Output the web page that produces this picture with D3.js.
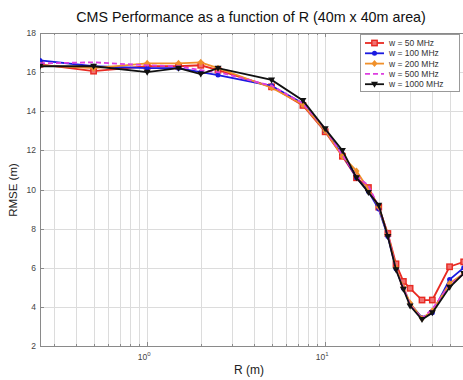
<!DOCTYPE html>
<html>
<head>
<meta charset="utf-8">
<script src="https://cdn.jsdelivr.net/npm/d3@7"></script>
<style>
  body { margin: 0; background: #fff; }
  svg { font-family: "Liberation Sans", Arial, sans-serif; }
</style>
</head>
<body>
<svg width="463" height="380"></svg>
<script>
// R values (m) where RMSE was sampled
const radius = [0.25, 0.5, 1, 1.5, 2, 2.5, 5, 7.5, 10, 12.5, 15, 17.5, 20, 22.5, 25, 27.5, 30, 35, 40, 50, 60];

const rmse50   = [16.4, 16.05, 16.3, 16.3, 16.35, 16.1, 15.25, 14.3, 12.95, 11.7, 10.6, 10.1, 9.1, 7.75, 6.2, 5.3, 4.95, 4.35, 4.35, 6.05, 6.3];
const rmse100  = [16.6, 16.3, 16.2, 16.2, 16.0, 15.85, 15.3, 14.4, 13.0, 11.8, 10.6, 9.9, 9.0, 7.6, 5.95, 4.95, 4.15, 3.45, 3.7, 5.4, 6.0];
const rmse200  = [16.35, 16.2, 16.45, 16.45, 16.5, 16.2, 15.2, 14.35, 13.0, 11.7, 10.95, 10.0, 9.1, 7.7, 6.0, 5.0, 4.2, 3.4, 3.8, 5.2, 5.7];
const rmse500  = [16.45, 16.5, 16.35, 16.3, 16.1, 16.0, 15.3, 14.4, 13.1, 11.75, 10.7, 10.2, 9.1, 7.7, 5.9, 5.0, 4.1, 3.4, 3.9, 5.1, 5.7];
const rmse1000 = [16.3, 16.3, 16.0, 16.2, 15.9, 16.2, 15.6, 14.55, 13.1, 12.0, 10.6, 9.85, 9.2, 7.6, 5.9, 4.9, 4.05, 3.35, 3.7, 5.0, 5.7];

const seriesNames = ['w = 50 MHz', 'w = 100 MHz', 'w = 200 MHz', 'w = 500 MHz', 'w = 1000 MHz'];
const yTicks = [2, 4, 6, 8, 10, 12, 14, 16, 18];
const xMajor = [1, 10];

const series = [
  {name: seriesNames[0], values: rmse50,   color: '#e82a22', marker: 'square'},
  {name: seriesNames[1], values: rmse100,  color: '#1a1ae0', marker: 'circle'},
  {name: seriesNames[2], values: rmse200,  color: '#f0902a', marker: 'diamond'},
  {name: seriesNames[3], values: rmse500,  color: '#dd3ee0', marker: 'none', dash: '5,3'},
  {name: seriesNames[4], values: rmse1000, color: '#111111', marker: 'triangle'}
];

const svg = d3.select('svg');
const margin = {left: 40, top: 33, bottom: 346, right: 463};

const x = d3.scaleLog()
  .domain([0.25, 100])
  .range([margin.left, margin.left + 178 * Math.log10(400)]);
const y = d3.scaleLinear()
  .domain([2, 18])
  .range([margin.bottom, margin.top]);

svg.append('defs').append('clipPath').attr('id', 'plot')
  .append('rect')
    .attr('x', margin.left).attr('y', margin.top - 6)
    .attr('width', margin.right - margin.left).attr('height', margin.bottom - margin.top + 12);

// grid
const minor = [];
[0.1, 1, 10].forEach(d => d3.range(1, 10).forEach(k => { const v = d * k; if (v >= 0.25) minor.push(v); }));
minor.push(100);

const grid = svg.append('g').attr('stroke', '#dcdcdc').attr('stroke-width', 1);
grid.selectAll('.vg').data(minor).enter().append('line')
  .attr('x1', d => Math.round(x(d)) + 0.5).attr('x2', d => Math.round(x(d)) + 0.5)
  .attr('y1', margin.top).attr('y2', margin.bottom);
grid.selectAll('.hg').data(yTicks).enter().append('line')
  .attr('x1', margin.left).attr('x2', margin.right)
  .attr('y1', d => Math.round(y(d)) + 0.5).attr('y2', d => Math.round(y(d)) + 0.5);

// axes frame
const axisColor = '#8a8a8a';
svg.append('line').attr('x1', margin.left + 0.5).attr('x2', margin.left + 0.5)
  .attr('y1', margin.top).attr('y2', margin.bottom).attr('stroke', axisColor);
svg.append('line').attr('x1', margin.left).attr('x2', margin.right)
  .attr('y1', margin.bottom + 0.5).attr('y2', margin.bottom + 0.5).attr('stroke', axisColor);
svg.append('line').attr('x1', margin.left).attr('x2', margin.right)
  .attr('y1', margin.top + 0.5).attr('y2', margin.top + 0.5).attr('stroke', axisColor);

// ticks
const ticks = svg.append('g').attr('stroke', axisColor);
ticks.selectAll('.xt').data(minor).enter().append('line')
  .attr('x1', d => Math.round(x(d)) + 0.5).attr('x2', d => Math.round(x(d)) + 0.5)
  .attr('y1', margin.bottom).attr('y2', d => xMajor.includes(d) ? margin.bottom - 4 : margin.bottom - 2);
ticks.selectAll('.xt2').data(minor).enter().append('line')
  .attr('x1', d => Math.round(x(d)) + 0.5).attr('x2', d => Math.round(x(d)) + 0.5)
  .attr('y1', margin.top).attr('y2', d => xMajor.includes(d) ? margin.top + 4 : margin.top + 2);
ticks.selectAll('.yt').data(yTicks).enter().append('line')
  .attr('x1', margin.left).attr('x2', margin.left + 4)
  .attr('y1', d => Math.round(y(d)) + 0.5).attr('y2', d => Math.round(y(d)) + 0.5);

// tick labels
svg.append('g').selectAll('text').data(yTicks).enter().append('text')
  .attr('x', margin.left - 4).attr('y', d => y(d) + 3)
  .attr('text-anchor', 'end').attr('font-size', 8.5).attr('fill', '#444')
  .text(d => d);

const xl = svg.append('g').selectAll('text').data(xMajor).enter().append('text')
  .attr('x', d => x(d) - 3).attr('y', margin.bottom + 14)
  .attr('text-anchor', 'middle').attr('font-size', 8.5).attr('fill', '#444');
xl.append('tspan').text('10');
xl.append('tspan').attr('dy', -4).attr('font-size', 6).text(d => Math.round(Math.log10(d)));

// series
const line = d3.line().x(d => x(d[0])).y(d => y(d[1]));
const plot = svg.append('g').attr('clip-path', 'url(#plot)');

function drawMarker(g, type, color, cx, cy) {
  if (type === 'square') {
    g.append('rect').attr('x', cx - 2.7).attr('y', cy - 2.7).attr('width', 5.4).attr('height', 5.4)
      .attr('fill', '#f07070').attr('stroke', color).attr('stroke-width', 1.4);
  } else if (type === 'circle') {
    g.append('circle').attr('cx', cx).attr('cy', cy).attr('r', 2.5).attr('fill', color);
  } else if (type === 'diamond') {
    g.append('path').attr('d', `M${cx},${cy - 3.5}L${cx + 3},${cy}L${cx},${cy + 3.5}L${cx - 3},${cy}Z`)
      .attr('fill', color);
  } else if (type === 'triangle') {
    g.append('path').attr('d', `M${cx - 3.5},${cy - 2.5}L${cx + 3.5},${cy - 2.5}L${cx},${cy + 3.5}Z`)
      .attr('fill', color);
  }
}

series.forEach(s => {
  const pts = radius.map((r, i) => [r, s.values[i]]);
  plot.append('path').datum(pts)
    .attr('fill', 'none').attr('stroke', s.color).attr('stroke-width', 1.8)
    .attr('stroke-dasharray', s.dash || null)
    .attr('d', line);
  const mg = plot.append('g');
  pts.forEach(p => drawMarker(mg, s.marker, s.color, x(p[0]), y(p[1])));
});

// legend
const lg = svg.append('g');
lg.append('rect').attr('x', 360.5).attr('y', 34.5).attr('width', 99).attr('height', 57)
  .attr('fill', '#fff').attr('stroke', '#999');
series.forEach((s, i) => {
  const ly = 43 + i * 10.3;
  lg.append('line').attr('x1', 365).attr('x2', 384).attr('y1', ly).attr('y2', ly)
    .attr('stroke', s.color).attr('stroke-width', 1.8).attr('stroke-dasharray', s.dash || null);
  drawMarker(lg, s.marker, s.color, 374.5, ly);
  lg.append('text').attr('x', 389).attr('y', ly + 3).attr('font-size', 8.5).attr('fill', '#333')
    .text(s.name);
});

// titles
svg.append('text').attr('x', 251).attr('y', 22).attr('text-anchor', 'middle')
  .attr('font-size', 14.3).attr('fill', '#111')
  .text('CMS Performance as a function of R (40m x 40m area)');
svg.append('text').attr('x', 249).attr('y', 374).attr('text-anchor', 'middle')
  .attr('font-size', 12).attr('fill', '#222')
  .text('R (m)');
svg.append('text').attr('transform', `translate(17, 190) rotate(-90)`).attr('text-anchor', 'middle')
  .attr('font-size', 11.5).attr('fill', '#222')
  .text('RMSE (m)');
</script>
</body>
</html>
